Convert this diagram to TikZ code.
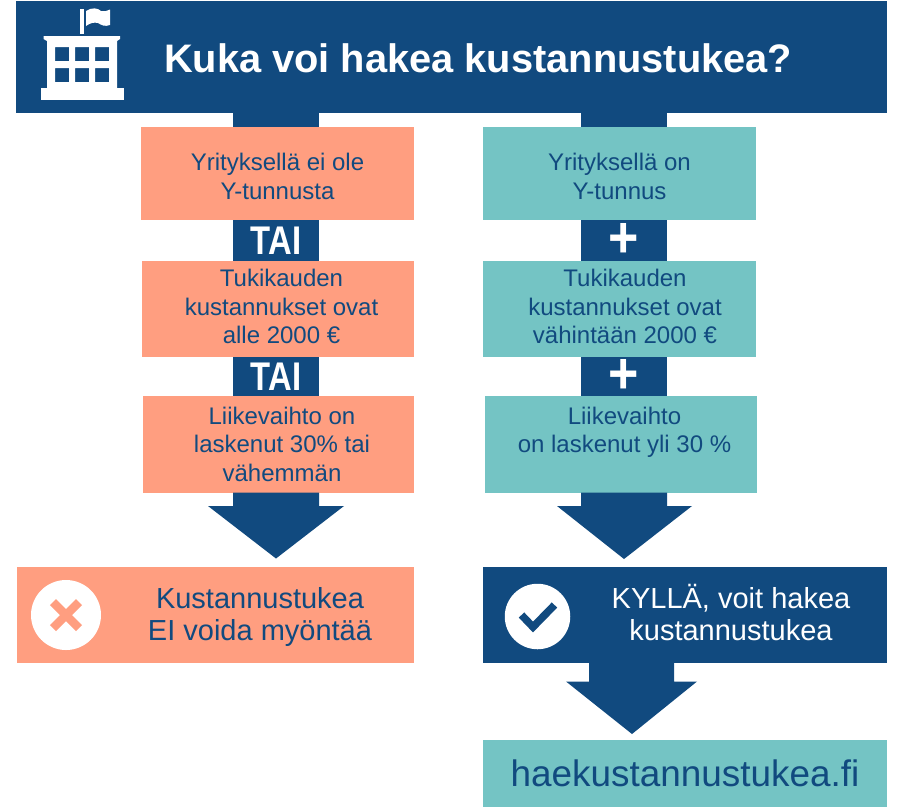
\documentclass[tikz,border=0pt]{standalone}
\usepackage{fontspec}
\setmainfont{Liberation Sans}
\usetikzlibrary{calc}
\definecolor{navy}{HTML}{114A7F}
\definecolor{salmon}{HTML}{FF9E80}
\definecolor{teal2}{HTML}{74C4C4}
\newcommand{\bx}[6]{\node[#1,minimum width=#4-#3,minimum height=#6-#5] (#2) at ({(#3+#4)/2},{(#5+#6)/2})}
\newcommand{\tai}{\raisebox{-1pt}{\scalebox{0.82}[1]{TAI}}}
\newcommand{\plusmark}{\raisebox{-5.5pt}{\scalebox{1.3}[1.45]{+}}}
\tikzset{
 x=1pt,y=-1pt,
 base/.style={inner sep=0pt,outer sep=0pt,align=center,anchor=center},
 sal/.style={base,fill=salmon},
 tea/.style={base,fill=teal2},
 txt/.style={base,text=navy,font=\fontsize{24}{28.5}\selectfont},
 dark/.style={base,fill=navy,text=white},
 link/.style={base,fill=navy,text=white,font=\bfseries\fontsize{40}{40}\selectfont},
 big/.style={font=\fontsize{29}{32}\selectfont},
 arrowshape/.style={fill=navy,draw=none},
 disc/.style={base,circle,fill=white},
 iconpart/.style={fill=white,draw=none},
}
\begin{document}
\begin{tikzpicture}
\useasboundingbox (0,0) rectangle (910,807);
% header
\bx{dark}{head}{16}{887}{1}{113} {};
\node[base,text=white,font=\bfseries\fontsize{39.8}{44}\selectfont,anchor=west] (title) at (164,58) {Kuka voi hakea kustannustukea?};
% stems
\bx{dark}{stemL}{233}{319}{113}{127} {};
\bx{dark}{stemR}{581}{667}{113}{127} {};
% left column
\bx{sal}{a1}{141}{414}{127}{220} {};
\node[txt] (a1t) at ($(a1)+(0,3)$) {Yrityksellä ei ole\\Y-tunnusta};
\bx{link}{ta}{233}{319}{220}{261} {\tai};
\bx{sal}{a2}{142}{414}{261}{356.5} {};
\node[txt] (a2t) at ($(a2)+(3.5,-2)$) {Tukikauden\\kustannukset ovat\\alle 2000 €};
\bx{link}{tb}{233}{319}{356.5}{396} {\tai};
\bx{sal}{a3}{143}{414}{396}{492.5} {};
\node[txt] (a3t) at ($(a3)+(3.5,0)$) {Liikevaihto on\\laskenut 30\% tai\\vähemmän};
% right column
\bx{tea}{b1}{483}{756}{127}{220} {};
\node[txt] (b1t) at ($(b1)+(0,3)$) {Yrityksellä on\\Y-tunnus};
\bx{link}{pa}{581}{667}{220}{261} {\plusmark};
\bx{tea}{b2}{483}{756}{261}{356.5} {};
\node[txt] (b2t) at ($(b2)+(5.5,-2)$) {Tukikauden\\kustannukset ovat\\vähintään 2000 €};
\bx{link}{pb}{581}{667}{356.5}{396} {\plusmark};
\bx{tea}{b3}{485}{757}{396}{492.5} {};
\node[txt] (b3t) at ($(b3)+(3.5,-12)$) {Liikevaihto\\on laskenut yli 30 \%};
% results
\bx{sal}{c1}{17}{414}{567}{663} {};
\node[base,text=navy,big] (c1t) at (260,617) {Kustannustukea\\EI voida myöntää};
\bx{dark}{c2}{483}{887}{567}{663} {};
\node[base,text=white,big] (c2t) at (731,612) {KYLLÄ, voit hakea\\kustannustukea};
\bx{tea}{d}{483}{887}{740}{807} {};
\node[base,text=navy,font=\fontsize{36.9}{40}\selectfont] (dt) at (d) {haekustannustukea.fi};
% arrows
\fill[arrowshape] (233,492.5) -- (233,506) -- (208,506) -- (276,558.5) -- (344,506) -- (319,506) -- (319,492.5) -- cycle;
\fill[arrowshape] (581,492.5) -- (581,506) -- (557,506) -- (624,559) -- (692,506) -- (667,506) -- (667,492.5) -- cycle;
\fill[arrowshape] (589,663) -- (589,681.5) -- (566,681.5) -- (632,734) -- (697,681.5) -- (674,681.5) -- (674,663) -- cycle;
% cross disc
\node[disc,minimum size=70] (xdisc) at (66,615) {};
\draw[salmon,line width=8.5,line cap=butt] (53,602) -- (79,628) (79,602) -- (53,628);
% check disc
\node[disc,minimum size=65.5] (okdisc) at (537.5,616.5) {};
\draw[navy,line width=7.5] (521.5,615) -- (533,627) -- (554.5,605);
% building icon
\fill[iconpart] (80,9) rectangle (84,34);
\fill[iconpart] (86,11) .. controls (92,7) and (98,8) .. (101,11) .. controls (104,12) and (107,11) .. (110,9.5) -- (110,25) .. controls (105,27) and (101,25) .. (98,23) .. controls (94,22) and (90,23) .. (86,26) -- cycle;
\fill[iconpart] (43.5,36) -- (120,36) -- (120,39) -- (117,41) -- (47,41) -- (43.5,39) -- cycle;
\fill[iconpart,even odd rule] (47,41) rectangle (117,88)
  (55,47) rectangle (69,61) (75,47) rectangle (89,61) (95,47) rectangle (109,61)
  (55,68) rectangle (69,82) (75,68) rectangle (89,82) (95,68) rectangle (109,82);
\fill[iconpart] (40.5,88) rectangle (123.5,100);
\end{tikzpicture}
\end{document}
